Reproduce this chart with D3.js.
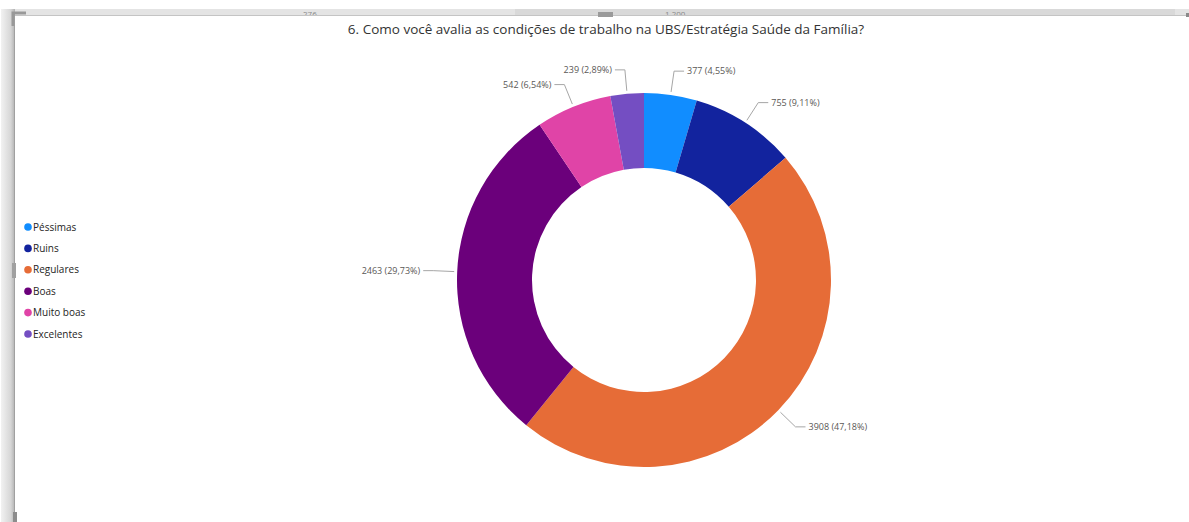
<!DOCTYPE html>
<html>
<head>
<meta charset="utf-8">
<script src="https://cdn.jsdelivr.net/npm/d3@7"></script>
<style>
  html, body { margin: 0; padding: 0; background: #ffffff; }
  svg { display: block; }
</style>
</head>
<body>
<svg id="chart" width="1189" height="522"></svg>
<script>
// Survey answers for question 6 (working conditions at the UBS / ESF)
const categories = ["Péssimas", "Ruins", "Regulares", "Boas", "Muito boas", "Excelentes"];
const counts = [377, 755, 3908, 2463, 542, 239];
const colors = ["#118DFF", "#12239E", "#E66C37", "#6B007B", "#E044A7", "#744EC2"];
const title = "6. Como você avalia as condições de trabalho na UBS/Estratégia Saúde da Família?";

const W = 1189, H = 522;
const svg = d3.select("#chart");

// ---- report canvas frame (ruler strip on top, panel edge on the left) ----
const defs = svg.append("defs");
const lg = defs.append("linearGradient").attr("id", "edge").attr("x1", "0").attr("x2", "1");
lg.append("stop").attr("offset", "0").attr("stop-color", "#f2f2f2");
lg.append("stop").attr("offset", "0.7").attr("stop-color", "#d6d6d6");
lg.append("stop").attr("offset", "1").attr("stop-color", "#b0b0b0");

svg.append("rect").attr("x", 15).attr("y", 9).attr("width", W - 15).attr("height", 6).attr("fill", "#e4e4e4");
svg.append("rect").attr("x", 515).attr("y", 9).attr("width", 660).attr("height", 6).attr("fill", "#d9d9d9");
svg.append("line").attr("x1", 15).attr("x2", W).attr("y1", 15.5).attr("y2", 15.5).attr("stroke", "#c4c4c4");
svg.append("rect").attr("x", 598).attr("y", 12).attr("width", 15).attr("height", 5).attr("fill", "#9a9a9a");
svg.append("rect").attr("x", 1186).attr("y", 13).attr("width", 3).attr("height", 4).attr("fill", "#8a8a8a");
svg.append("rect").attr("x", 1).attr("y", 9).attr("width", 14).attr("height", H - 9).attr("fill", "url(#edge)");
svg.append("line").attr("x1", 14.5).attr("x2", 14.5).attr("y1", 14).attr("y2", H).attr("stroke", "#a0a0a0");
svg.append("path").attr("d", "M13,26 V13 H26").attr("fill", "none").attr("stroke", "#999").attr("stroke-width", 3);
svg.append("rect").attr("x", 12).attr("y", 263).attr("width", 4).attr("height", 15).attr("fill", "#a0a0a0");
svg.append("rect").attr("x", 13).attr("y", 512).attr("width", 4).attr("height", 10).attr("fill", "#8c8c8c");

// ruler numbers partly hidden under the strip
const rulerClip = defs.append("clipPath").attr("id", "rulerClip");
rulerClip.append("rect").attr("x", 0).attr("y", 9).attr("width", W).attr("height", 6);
const ruler = svg.append("g").attr("clip-path", "url(#rulerClip)")
  .attr("font-family", "'Open Sans', sans-serif").attr("font-size", 8).attr("fill", "#8a8a8a");
ruler.append("text").attr("x", 303).attr("y", 17).text("276");
ruler.append("text").attr("x", 665).attr("y", 17).text("1.200");

// ---- title ----
svg.append("text")
  .attr("x", 606).attr("y", 34)
  .attr("text-anchor", "middle")
  .attr("font-family", "'Open Sans', sans-serif")
  .attr("font-size", 13.5)
  .attr("fill", "#333333")
  .text(title);

// ---- legend ----
const legend = svg.append("g").attr("font-family", "'Open Sans', sans-serif").attr("font-size", 10);
const ly = d3.scalePoint().domain(categories).range([227, 334]);
categories.forEach((c, i) => {
  const g = legend.append("g").attr("transform", `translate(0,${ly(c)})`);
  g.append("circle").attr("cx", 28).attr("cy", 0).attr("r", 3.8).attr("fill", colors[i]);
  g.append("text").attr("x", 33).attr("y", 0).attr("dy", "0.35em").attr("fill", "#252423").text(c);
});

// ---- donut ----
const cx = 644, cy = 280, outerR = 187, innerR = 112, elbowR = 211;
const total = d3.sum(counts);
const data = categories.map((c, i) => ({ cat: c, value: counts[i], color: colors[i] }));
const pie = d3.pie().sort(null).value(d => d.value);
const arcs = pie(data);
const arc = d3.arc().innerRadius(innerR).outerRadius(outerR);

const g = svg.append("g").attr("transform", `translate(${cx},${cy})`);
g.selectAll("path.slice").data(arcs).join("path")
  .attr("class", "slice")
  .attr("d", arc)
  .attr("fill", d => d.data.color);

// ---- data labels with leader lines ----
const fmtPct = v => d3.format(".2f")(v).replace(".", ",");
const polar = (r, a) => [r * Math.sin(a), -r * Math.cos(a)];

arcs.forEach(d => {
  const mid = (d.startAngle + d.endAngle) / 2;
  const p0 = polar(outerR + 3, mid);
  const p1 = polar(elbowR, mid);
  const right = Math.sin(mid) >= 0;
  const p2 = [p1[0] + (right ? 10 : -10), p1[1]];
  g.append("polyline")
    .attr("points", [p0, p1, p2].map(p => p.join(",")).join(" "))
    .attr("fill", "none")
    .attr("stroke", "#a6a6a6")
    .attr("stroke-width", 1);
  g.append("text")
    .attr("x", p2[0] + (right ? 3 : -3))
    .attr("y", p2[1])
    .attr("dy", "0.35em")
    .attr("text-anchor", right ? "start" : "end")
    .attr("font-family", "'Open Sans', sans-serif")
    .attr("font-size", 9)
    .attr("fill", "#5a5856")
    .text(`${d.data.value} (${fmtPct(d.data.value / total * 100)}%)`);
});
</script>
</body>
</html>
